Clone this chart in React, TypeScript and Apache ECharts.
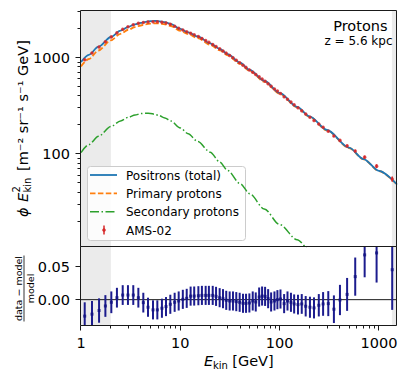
import React, { useEffect, useRef } from "react";
import * as echarts from "echarts";

const FONT = "'DejaVu Sans', 'Liberation Sans', sans-serif";

// ---------- axis ranges ----------
const X_MIN = 1;
const X_MAX = 1520;
const Y_TOP_MIN = 10.75;
const Y_TOP_MAX = 3055;
const Y_BOT_MIN = -0.04;
const Y_BOT_MAX = 0.08;

// ---------- model curves ----------
const E_MODEL = [1, 1.2, 1.5, 2, 2.5, 3, 3.5, 4, 4.5, 5, 5.5, 6, 7, 8, 10, 12, 15, 20, 25, 30, 40, 50, 70, 100, 150, 200, 300, 500, 700, 1000, 1520];
const TOTAL = [900, 1070, 1300, 1640, 1909, 2090, 2223, 2300, 2360, 2395, 2408, 2400, 2340, 2240, 1990, 1830, 1660, 1410, 1230, 1090, 885, 745, 575, 430, 308, 245, 177, 116, 88.3, 66.6, 48];
const PRIMARY = [811, 968, 1187, 1512, 1771, 1950, 2081, 2160, 2222, 2259, 2276, 2273, 2222, 2133, 1902, 1755, 1596, 1361, 1191, 1058, 862, 728, 564, 423, 304, 242, 175, 115, 87.8, 66.3, 47.8];
const SECONDARY = [103, 125, 152, 192, 220, 240, 253, 262, 265, 263, 258, 252, 236, 220, 186, 162, 134, 104, 82, 67, 49, 38.5, 26.7, 18.4, 12.8, 10.0, 6.8, 3.9, 2.7, 1.8, 1.1];

// ---------- AMS-02 data ----------
const AMS_E = [1.09, 1.29, 1.52, 1.76, 2.02, 2.3, 2.63, 2.97, 3.36, 3.78, 4.24, 4.73, 5.31, 5.87, 6.53, 7.18, 7.93, 8.77, 9.63, 10.6, 11.6, 12.7, 13.8, 15.2, 16.5, 18.0, 19.4, 21.2, 22.9, 24.9, 26.9, 29.0, 31.4, 33.9, 36.6, 39.6, 42.8, 45.9, 49.6, 53.6, 57.5, 62.2, 66.6, 71.4, 76.6, 82.1, 88.7, 95.0, 102, 111, 120, 130, 140, 153, 167, 183, 202, 222, 248, 274, 309, 352, 405, 478, 577, 718, 947, 1360];
const AMS_FLUX = [952, 1119, 1292, 1465, 1644, 1809, 1972, 2096, 2202, 2274, 2319, 2350, 2366, 2365, 2336, 2296, 2230, 2125, 2026, 1938, 1863, 1795, 1731, 1658, 1583, 1507, 1443, 1370, 1304, 1237, 1174, 1114, 1052, 996, 941, 887, 835, 792, 746, 705, 667, 632, 600, 567, 535, 503, 473, 449, 423, 392, 369, 345, 324, 301, 281, 260, 240, 222, 204, 189, 172, 153, 138, 121, 107, 92.4, 74.5, 54.7];
const RESID = [-0.025, -0.022, -0.0165, -0.0096, -0.004, 0.003, 0.007, 0.007, 0.007, 0.003, -0.0045, -0.0115, -0.0155, -0.0155, -0.013, -0.0105, -0.007, -0.004, -0.002, 0.0005, 0.002, 0.0054, 0.0055, 0.006, 0.0065, 0.0065, 0.0065, 0.0065, 0.005, 0.003, 0.0015, -0.001, -0.002, -0.002, -0.003, -0.004, -0.0055, -0.0055, -0.005, -0.002, -0.0035, 0.004, 0.0055, 0.005, 0.0015, -0.0035, -0.002, 0.0, 0.001, -0.006, -0.002, -0.004, -0.0065, -0.0075, -0.0065, -0.01, -0.0115, -0.0125, -0.0085, -0.0065, -0.006, -0.0145, -0.0005, 0.008, 0.035, 0.068, 0.071, 0.0455];
const RESID_ERR = [
  0.021, 0.02, 0.0185, 0.0165, 0.0165, 0.015, 0.015, 0.015, 0.015, 0.015,
  0.015, 0.0145, 0.0145, 0.0145, 0.0145, 0.0145, 0.0145, 0.0145, 0.0145, 0.0145,
  0.0145, 0.0145, 0.0145, 0.0145, 0.0145, 0.0145, 0.0145, 0.0145, 0.0145, 0.0145,
  0.0145, 0.0145, 0.0145, 0.0145, 0.0145, 0.0145, 0.0145, 0.0145, 0.0145, 0.0145,
  0.0145, 0.0145, 0.0145, 0.0145, 0.0145, 0.0145, 0.0145, 0.0145, 0.0145, 0.0145,
  0.0145, 0.0145, 0.0145, 0.015, 0.015, 0.0155, 0.016, 0.016, 0.017, 0.018,
  0.019, 0.021, 0.023, 0.025, 0.029, 0.034, 0.045, 0.061,
];

// shaded energy ranges
const SHADED = [[1, 2], [1350, 1520]];

// ---------- ticks ----------
const X_MAJOR = [1, 10, 100, 1000];
const X_MINOR = [2, 3, 4, 5, 6, 7, 8, 9, 20, 30, 40, 50, 60, 70, 80, 90, 200, 300, 400, 500, 600, 700, 800, 900];
const Y_TOP_MAJOR = [100, 1000];
const Y_TOP_MINOR = [20, 30, 40, 50, 60, 70, 80, 90, 200, 300, 400, 500, 600, 700, 800, 900, 2000, 3000];
const Y_BOT_MAJOR = [0, 0.05];

// ---------- styles ----------
const C_TOTAL = "#1f77b4";
const C_PRIM = "#ff7f0e";
const C_SEC = "#2ca02c";
const C_AMS = "#d62728";
const C_RES = "#1c1c8e";
const C_SHADE = "#ebebeb";
const C_AX = "#1a1a1a";
const LABEL_FS = 14.5;

const crisp = (v: number) => Math.ceil(v) - 0.5;

const shadeItem = (yRef: number) => (params: any, api: any) => {
  const cs = params.coordSys;
  const x0 = api.coord([api.value(0), yRef])[0];
  const x1 = api.coord([api.value(1), yRef])[0];
  return { type: "rect", shape: { x: x0, y: cs.y, width: x1 - x0, height: cs.height }, style: { fill: C_SHADE } };
};

const yTickItem = (params: any, api: any) => {
  const p = api.coord([api.value(0), api.value(1)]);
  const len = api.value(2) ? 5 : 3;
  const x = crisp(params.coordSys.x);
  const y = crisp(p[1]);
  return { type: "line", shape: { x1: x - len, y1: y, x2: x, y2: y }, style: { stroke: C_AX, lineWidth: 1 } };
};

const xTickItem = (params: any, api: any) => {
  const p = api.coord([api.value(0), api.value(1)]);
  const len = api.value(2) ? 5 : 3;
  const x = crisp(p[0]);
  const y = crisp(params.coordSys.y + params.coordSys.height);
  return { type: "line", shape: { x1: x, y1: y, x2: x, y2: y + len }, style: { stroke: C_AX, lineWidth: 1 } };
};

const errItem = (color: string, width: number) => (params: any, api: any) => {
  const lo = api.coord([api.value(0), api.value(1)]);
  const hi = api.coord([api.value(0), api.value(2)]);
  return { type: "line", shape: { x1: lo[0], y1: lo[1], x2: hi[0], y2: hi[1] }, style: { stroke: color, lineWidth: width } };
};

const isPow10 = (v: number) => {
  const l = Math.log10(v);
  return Math.abs(l - Math.round(l)) < 1e-6;
};

function buildOption() {
  const curve = (arr: number[]) => E_MODEL.map((e, i) => [e, arr[i]]);
  const txt = (x: number, y: number, text: string, fs: number, extra: any = {}) => ({
    type: "text",
    x,
    y,
    z: 5,
    silent: true,
    style: { text, fontSize: fs, fontFamily: FONT, fill: "#000", align: "left", verticalAlign: "middle", ...extra },
  });

  const legendRows = [175, 193.3, 211.7, 230];

  return {
    animation: false,
    textStyle: { fontFamily: FONT },
    grid: [
      { left: 81, top: 11, width: 316, height: 236, outerBoundsMode: "none", containLabel: false },
      { left: 81, top: 247, width: 316, height: 79, outerBoundsMode: "none", containLabel: false },
    ],
    xAxis: [
      { type: "log", logBase: 10, gridIndex: 0, min: X_MIN, max: X_MAX, show: false },
      {
        type: "log", logBase: 10, gridIndex: 1, min: X_MIN, max: X_MAX,
        axisLine: { show: false }, axisTick: { show: false }, splitLine: { show: false }, minorTick: { show: false },
        axisLabel: {
          margin: 9, fontSize: LABEL_FS, color: "#000", fontFamily: FONT,
          formatter: (v: number) => (isPow10(v) ? String(Math.round(v)) : ""),
        },
      },
    ],
    yAxis: [
      {
        type: "log", logBase: 10, gridIndex: 0, min: Y_TOP_MIN, max: Y_TOP_MAX,
        axisLine: { show: false }, axisTick: { show: false }, splitLine: { show: false }, minorTick: { show: false },
        axisLabel: {
          margin: 11, fontSize: LABEL_FS, color: "#000", fontFamily: FONT,
          formatter: (v: number) => (isPow10(v) && v > 50 && v < 2000 ? String(Math.round(v)) : ""),
        },
      },
      {
        type: "value", gridIndex: 1, min: Y_BOT_MIN, max: Y_BOT_MAX, interval: 0.01,
        axisLine: { show: false }, axisTick: { show: false }, splitLine: { show: false },
        axisLabel: {
          margin: 11, fontSize: LABEL_FS, color: "#000", fontFamily: FONT,
          formatter: (v: number) => (Math.abs(v) < 1e-9 ? "0.00" : Math.abs(v - 0.05) < 1e-9 ? "0.05" : ""),
        },
      },
    ],
    series: [
      // ---- top panel ----
      { type: "custom", name: "shadeTop", xAxisIndex: 0, yAxisIndex: 0, z: 1, silent: true, clip: true, renderItem: shadeItem(100), data: SHADED },
      {
        type: "line", name: "Secondary protons", xAxisIndex: 0, yAxisIndex: 0, z: 3, silent: true,
        data: curve(SECONDARY), symbol: "none", smooth: 0.3, smoothMonotone: "x",
        lineStyle: { color: C_SEC, width: 1.5, type: [9, 2.5, 1.5, 2.5] },
      },
      {
        type: "line", name: "Primary protons", xAxisIndex: 0, yAxisIndex: 0, z: 3, silent: true,
        data: curve(PRIMARY), symbol: "none", smooth: 0.3, smoothMonotone: "x",
        lineStyle: { color: C_PRIM, width: 1.8, type: [5.5, 2.4] },
      },
      {
        type: "line", name: "Positrons (total)", xAxisIndex: 0, yAxisIndex: 0, z: 3, silent: true,
        data: curve(TOTAL), symbol: "none", smooth: 0.3, smoothMonotone: "x",
        lineStyle: { color: C_TOTAL, width: 1.8 },
      },
      {
        type: "custom", name: "AMS-02 err", xAxisIndex: 0, yAxisIndex: 0, z: 4, silent: true, clip: true,
        renderItem: errItem(C_AMS, 1.5),
        data: AMS_E.map((e, i) => [e, AMS_FLUX[i] * (1 - RESID_ERR[i]), AMS_FLUX[i] * (1 + RESID_ERR[i])]),
      },
      {
        type: "scatter", name: "AMS-02", xAxisIndex: 0, yAxisIndex: 0, z: 5, silent: true,
        symbol: "circle", symbolSize: 3.5, itemStyle: { color: C_AMS },
        data: AMS_E.map((e, i) => [e, AMS_FLUX[i]]),
      },
      {
        type: "custom", name: "ticksTopY", xAxisIndex: 0, yAxisIndex: 0, z: 6, silent: true, clip: false,
        renderItem: yTickItem,
        data: [...Y_TOP_MAJOR.map((v) => [X_MIN, v, 1]), ...Y_TOP_MINOR.map((v) => [X_MIN, v, 0])],
      },
      // ---- bottom panel ----
      { type: "custom", name: "shadeBot", xAxisIndex: 1, yAxisIndex: 1, z: 1, silent: true, clip: true, renderItem: shadeItem(0), data: SHADED },
      {
        type: "line", name: "zero", xAxisIndex: 1, yAxisIndex: 1, z: 3, silent: true, symbol: "none",
        data: [[X_MIN, 0], [X_MAX, 0]], lineStyle: { color: C_AX, width: 1 },
      },
      {
        type: "custom", name: "resErr", xAxisIndex: 1, yAxisIndex: 1, z: 4, silent: true, clip: true,
        renderItem: errItem(C_RES, 2),
        data: AMS_E.map((e, i) => [e, RESID[i] - RESID_ERR[i], RESID[i] + RESID_ERR[i]]),
      },
      {
        type: "scatter", name: "resid", xAxisIndex: 1, yAxisIndex: 1, z: 5, silent: true, clip: true,
        symbol: "rect", symbolSize: 3, itemStyle: { color: "#101080" },
        data: AMS_E.map((e, i) => [e, RESID[i]]),
      },
      {
        type: "custom", name: "ticksBotX", xAxisIndex: 1, yAxisIndex: 1, z: 6, silent: true, clip: false,
        renderItem: xTickItem,
        data: [...X_MAJOR.map((v) => [v, Y_BOT_MIN, 1]), ...X_MINOR.map((v) => [v, Y_BOT_MIN, 0])],
      },
      {
        type: "custom", name: "ticksBotY", xAxisIndex: 1, yAxisIndex: 1, z: 6, silent: true, clip: false,
        renderItem: yTickItem,
        data: Y_BOT_MAJOR.map((v) => [X_MIN, v, 1]),
      },
    ],
    graphic: [
      // frames
      { type: "rect", z: 100, silent: true, shape: { x: 80.5, y: 10.5, width: 316, height: 236 }, style: { fill: "none", stroke: C_AX, lineWidth: 1 } },
      { type: "rect", z: 100, silent: true, shape: { x: 80.5, y: 246.5, width: 316, height: 79 }, style: { fill: "none", stroke: C_AX, lineWidth: 1 } },
      // legend
      { type: "rect", z: 2, silent: true, shape: { x: 87.5, y: 166.5, width: 158, height: 74, r: 3 }, style: { fill: "rgba(255,255,255,0.85)", stroke: "#cccccc", lineWidth: 1 } },
      { type: "line", z: 5, silent: true, shape: { x1: 90, y1: legendRows[0], x2: 117, y2: legendRows[0] }, style: { stroke: C_TOTAL, lineWidth: 1.8 } },
      { type: "line", z: 5, silent: true, shape: { x1: 90, y1: legendRows[1], x2: 117, y2: legendRows[1] }, style: { stroke: C_PRIM, lineWidth: 1.8, lineDash: [5.5, 2.4] } },
      { type: "line", z: 5, silent: true, shape: { x1: 90, y1: legendRows[2], x2: 117, y2: legendRows[2] }, style: { stroke: C_SEC, lineWidth: 1.5, lineDash: [9, 2.5, 1.5, 2.5] } },
      { type: "line", z: 5, silent: true, shape: { x1: 104, y1: legendRows[3] - 4.5, x2: 104, y2: legendRows[3] + 4.5 }, style: { stroke: C_AMS, lineWidth: 1.5 } },
      { type: "circle", z: 5, silent: true, shape: { cx: 104, cy: legendRows[3], r: 1.75 }, style: { fill: C_AMS } },
      txt(126, legendRows[0] + 0.5, "Positrons (total)", 12),
      txt(126, legendRows[1] + 0.5, "Primary protons", 12),
      txt(126, legendRows[2] + 0.5, "Secondary protons", 12),
      txt(126, legendRows[3] + 0.5, "AMS-02", 12),
      // panel annotation
      txt(387.5, 25.5, "Protons", 14.5, { align: "right" }),
      txt(392.5, 40.8, "z = 5.6 kpc", 12, { align: "right" }),
      // x-axis title
      txt(204, 361, "E", 14.5, { fontStyle: "italic" }),
      txt(213, 365, "kin", 10),
      txt(232.3, 361, "[GeV]", 14.5),
      // y-axis title (rotated)
      {
        type: "group", x: 22, y: 128, rotation: Math.PI / 2, silent: true,
        children: [
          txt(-89, 1, "ϕ", 14.5, { fontStyle: "italic" }),
          txt(-74, 1, "E", 14.5, { fontStyle: "italic" }),
          txt(-64.5, -5.5, "2", 10),
          txt(-64.5, 5, "kin", 10),
          txt(-43, 1, "[m⁻² sr⁻¹ s⁻¹ GeV]", 14.5),
        ],
      },
      // residual axis title (rotated fraction)
      {
        type: "group", x: 24, y: 288.5, rotation: Math.PI / 2, silent: true,
        children: [
          txt(0, -6, "data − model", 9.5, { align: "center" }),
          { type: "line", z: 5, shape: { x1: -33, y1: 0, x2: 33, y2: 0 }, style: { stroke: "#000", lineWidth: 0.8 } },
          txt(0, 6.5, "model", 9.5, { align: "center" }),
        ],
      },
    ],
  };
}

export default function App() {
  const ref = useRef<HTMLDivElement>(null);
  useEffect(() => {
    if (!ref.current) return;
    const chart = echarts.init(ref.current, null, { renderer: "svg" });
    chart.setOption(buildOption() as any);
    return () => chart.dispose();
  }, []);
  return <div ref={ref} style={{ position: "absolute", left: 0, top: 0, width: 405, height: 371, background: "#fff" }} />;
}
